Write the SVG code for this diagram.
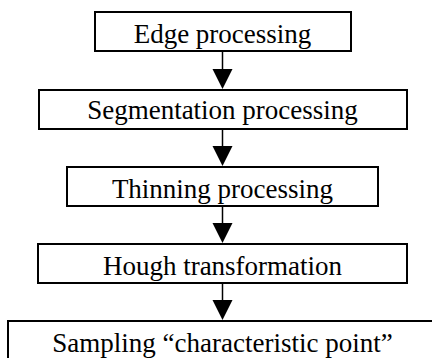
<svg xmlns="http://www.w3.org/2000/svg" width="432" height="358" viewBox="0 0 432 358">
<style>
.box{fill:#fff;stroke:#000;stroke-width:2}
.t{font-family:"Liberation Serif","Times New Roman",serif;font-size:27px;fill:#000;text-anchor:middle}
.c{stroke:#000;stroke-width:1.5;fill:none}
.h{fill:#000}
</style>
<rect width="432" height="358" fill="#fff"/>
<g id="connectors">
<line class="c" x1="222.5" y1="51" x2="222.5" y2="72"/>
<polygon class="h" points="212.5,69 232.5,69 222.5,89"/>
<line class="c" x1="222.5" y1="129" x2="222.5" y2="149"/>
<polygon class="h" points="212.5,146 232.5,146 222.5,166"/>
<line class="c" x1="222.5" y1="206" x2="222.5" y2="226"/>
<polygon class="h" points="212.5,223 232.5,223 222.5,243"/>
<line class="c" x1="222.5" y1="283" x2="222.5" y2="303"/>
<polygon class="h" points="212.5,300 232.5,300 222.5,320"/>
</g>
<g id="edge">
<rect class="box" x="95" y="12" width="256" height="39"/>
<text class="t" x="222.5" y="43">Edge processing</text>
</g>
<g id="segmentation">
<rect class="box" x="39" y="90" width="368" height="39"/>
<text class="t" x="222.5" y="119">Segmentation processing</text>
</g>
<g id="thinning">
<rect class="box" x="67" y="167" width="311" height="39"/>
<text class="t" x="222.5" y="198">Thinning processing</text>
</g>
<g id="hough">
<rect class="box" x="38" y="244" width="369" height="39"/>
<text class="t" x="222.5" y="275">Hough transformation</text>
</g>
<g id="sampling">
<rect class="box" x="8" y="321" width="430" height="45"/>
<text class="t" x="222.5" y="352">Sampling “characteristic point”</text>
</g>
</svg>
